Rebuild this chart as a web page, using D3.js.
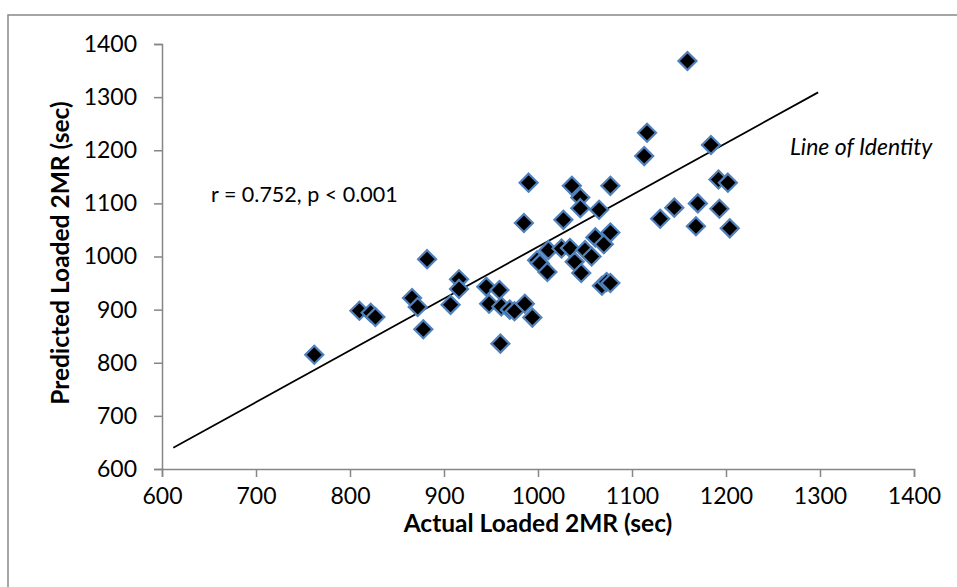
<!DOCTYPE html>
<html lang="en">
<head>
    <meta charset="UTF-8">
    <script src="https://d3js.org/d3.v7.min.js"></script>
    <style>
        body { margin: 0; background: #fff; }
        text { font-family: Lato, "Open Sans", sans-serif; fill: #000; }
    </style>
    <title>Predicted vs Actual Loaded 2MR</title>
</head>
<body>

<div id="chart"></div>

<script>
    const width = 957;
    const height = 587;

    // Actual (x) and predicted (y) loaded 2MR times, sec
    const actual = [762, 810, 822, 827, 866, 872, 878, 882, 907, 916, 916, 945, 948, 959, 960, 961,
        970, 975, 986, 994, 985, 990, 999, 1002, 1010, 1011, 1025, 1027, 1034, 1036, 1039, 1045,
        1045, 1046, 1050, 1057, 1061, 1065, 1070, 1068, 1073, 1077, 1077, 1077, 1113, 1116, 1130,
        1145, 1159, 1168, 1170, 1184, 1192, 1193, 1202, 1204];
    const predicted = [815, 898, 894, 886, 922, 905, 863, 995, 909, 957, 939, 943, 911, 937, 836, 906,
        900, 897, 911, 885, 1063, 1139, 993, 987, 971, 1012, 1015, 1069, 1016, 1133, 990, 1111,
        1091, 969, 1012, 1000, 1036, 1088, 1023, 945, 952, 950, 1045, 1133, 1189, 1233, 1071,
        1092, 1368, 1057, 1100, 1210, 1145, 1090, 1139, 1053];

    // fitted line end points
    const lineX = [612, 1298];
    const lineY = [640, 1309];

    const ticks = [600, 700, 800, 900, 1000, 1100, 1200, 1300, 1400];

    const svg = d3.select("#chart").append("svg")
        .attr("width", width)
        .attr("height", height);

    // outer chart frame (runs off the right and bottom edges)
    svg.append("rect")
        .attr("x", 8).attr("y", 15)
        .attr("width", width + 20).attr("height", height + 20)
        .attr("fill", "none")
        .attr("stroke", "#888")
        .attr("stroke-width", 1.5);

    const x = d3.scaleLinear().domain([600, 1400]).range([162, 914]);
    const y = d3.scaleLinear().domain([600, 1400]).range([469, 44]);

    const xAxis = svg.append("g")
        .attr("transform", `translate(0,${y(600)})`)
        .call(d3.axisBottom(x).tickValues(ticks).tickSize(8).tickPadding(11).tickFormat(d3.format("d")));
    const yAxis = svg.append("g")
        .attr("transform", `translate(${x(600)},0)`)
        .call(d3.axisLeft(y).tickValues(ticks).tickSize(8).tickPadding(17).tickFormat(d3.format("d")));

    [xAxis, yAxis].forEach(g => {
        g.select(".domain").attr("stroke", "#868686").attr("stroke-width", 1.5);
        g.selectAll(".tick line").attr("stroke", "#868686").attr("stroke-width", 1.5);
        g.selectAll(".tick text").style("font-size", "23px").attr("fill", "#000");
    });

    // line
    svg.append("line")
        .attr("x1", x(lineX[0])).attr("y1", y(lineY[0]))
        .attr("x2", x(lineX[1])).attr("y2", y(lineY[1]))
        .attr("stroke", "#000")
        .attr("stroke-width", 1.8);

    // diamond markers
    const points = actual.map((a, i) => ({ a, p: predicted[i] }));
    svg.selectAll(".pt")
        .data(points)
        .enter().append("path")
        .attr("class", "pt")
        .attr("d", "M0,-9L9,0L0,9L-9,0Z")
        .attr("transform", d => `translate(${x(d.a)},${y(d.p)})`)
        .attr("fill", "#000")
        .attr("stroke", "#4f81bd")
        .attr("stroke-width", 2.2);

    // axis titles
    svg.append("text")
        .attr("x", (x(600) + x(1400)) / 2)
        .attr("y", 532)
        .attr("text-anchor", "middle")
        .style("font-size", "24.5px")
        .style("font-weight", "bold")
        .text("Actual Loaded 2MR (sec)");

    svg.append("text")
        .attr("transform", "translate(69,253) rotate(-90)")
        .attr("text-anchor", "middle")
        .style("font-size", "24.5px")
        .style("font-weight", "bold")
        .text("Predicted Loaded 2MR (sec)");

    // annotations
    svg.append("text")
        .attr("x", 211).attr("y", 202)
        .style("font-size", "21.5px")
        .text("r = 0.752, p < 0.001");

    svg.append("text")
        .attr("x", 790).attr("y", 155)
        .style("font-size", "23px")
        .style("font-style", "italic")
        .text("Line of Identity");
</script>

</body>
</html>
